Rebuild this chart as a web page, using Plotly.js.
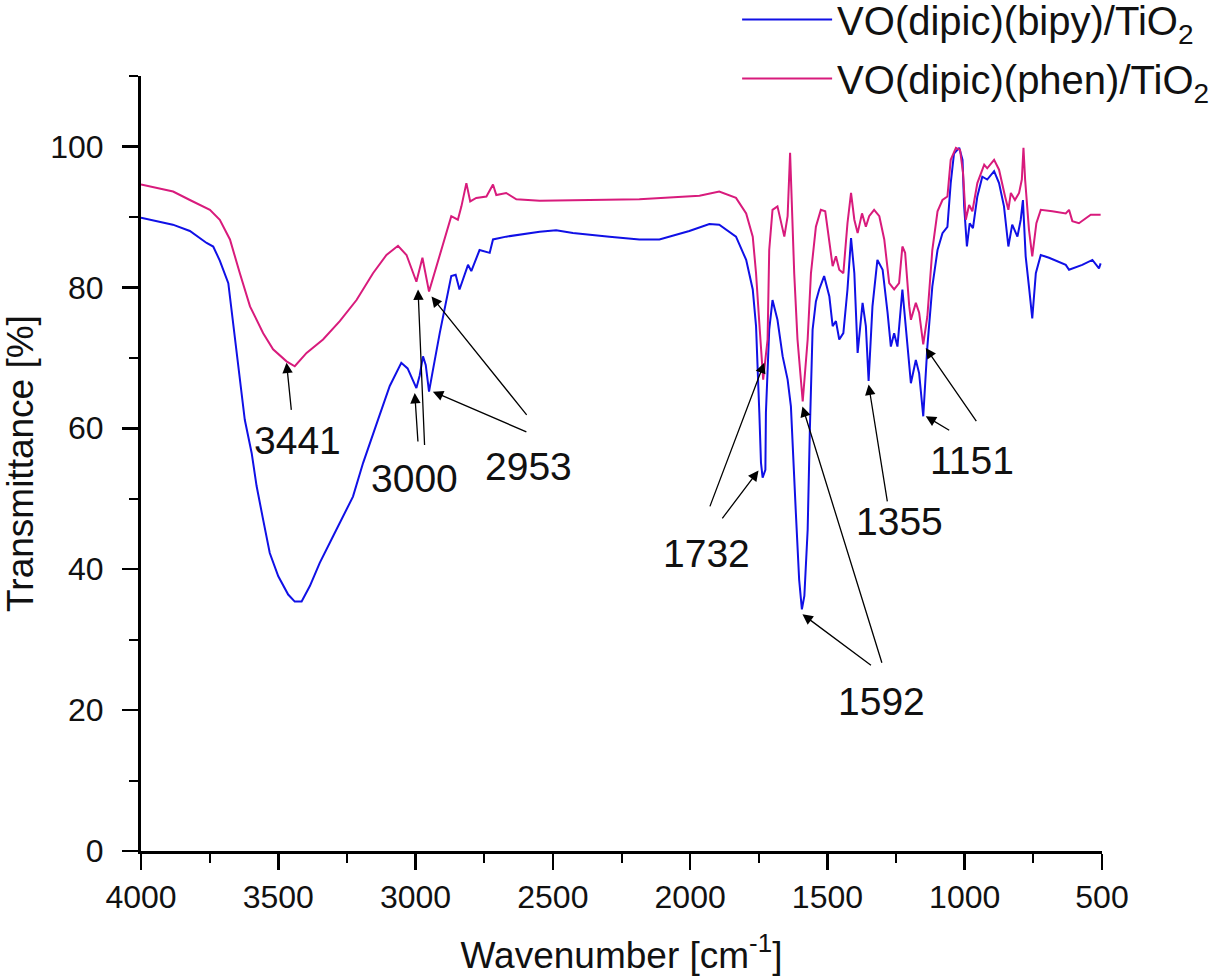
<!DOCTYPE html>
<html>
<head>
<meta charset="utf-8">
<script src="https://cdn.plot.ly/plotly-3.0.1.min.js"></script>
<style>html,body{margin:0;padding:0;background:#fff;}#chart{width:1219px;height:978px;}</style>
</head>
<body>
<div id="chart"></div>
<script>
// ---- Data: VO(dipic)(bipy)/TiO2 (blue) ----
const bipyWn = [4000,3931,3884,3822,3761,3737,3713,3682,3658,3640,3622,3597,3579,3555,3531,3500,3464,3440,3415,3385,3349,3300,3264,3228,3191,3155,3137,3094,3052,3029,2997,2985,2973,2963,2951,2938,2912,2870,2854,2840,2809,2797,2767,2730,2718,2670,2548,2488,2427,2294,2185,2112,2003,1930,1894,1833,1796,1772,1760,1748,1742,1736,1726,1724,1718,1712,1700,1682,1663,1645,1633,1627,1615,1603,1593,1584,1572,1564,1554,1542,1530,1512,1493,1481,1469,1457,1442,1427,1414,1402,1390,1372,1360,1350,1336,1318,1299,1281,1269,1257,1245,1227,1214,1196,1178,1166,1151,1136,1118,1099,1081,1063,1051,1039,1020,1008,1002,992,982,970,954,936,918,893,875,857,841,827,808,796,788,778,766,754,741,723,693,632,620,572,535,511,505];
const bipyT  = [89.9,89.3,88.9,88.0,86.3,85.8,83.8,80.6,72.7,66.9,61.2,56.5,51.8,47.0,42.3,39.0,36.4,35.4,35.4,37.6,40.9,44.7,47.5,50.3,55.1,59.3,61.2,66.0,69.3,68.5,65.7,67.5,70.2,69.0,65.2,68.0,73.5,81.6,81.8,79.7,83.2,82.3,85.3,84.9,86.8,87.2,87.9,88.1,87.7,87.2,86.8,86.8,88.0,89.0,88.9,87.2,83.9,79.7,74.5,62.2,55.1,53.0,54.1,62.2,69.3,74.0,78.2,75.4,70.2,66.9,63.1,57.4,48.0,38.5,34.3,36.2,45.6,59.8,74.0,78.0,79.7,81.6,78.7,74.5,75.2,72.6,73.5,79.7,87.0,82.0,70.7,77.8,74.5,66.7,77.3,83.9,82.5,76.4,71.6,73.5,71.6,79.7,74.5,66.4,69.7,67.8,61.7,71.6,80.1,85.3,87.7,88.6,94.8,99.0,99.8,98.1,91.5,85.8,89.1,88.4,92.9,95.7,95.3,96.5,94.8,91.5,85.8,88.9,87.2,89.6,92.4,84.4,80.1,75.6,82.0,84.6,84.2,83.2,82.5,83.2,83.9,82.7,83.4];

// ---- Data: VO(dipic)(phen)/TiO2 (magenta) ----
const phenWn = [4000,3883,3822,3749,3713,3676,3640,3603,3555,3519,3470,3440,3397,3337,3276,3215,3155,3106,3064,3033,2997,2975,2951,2912,2870,2846,2833,2815,2801,2779,2742,2718,2706,2670,2633,2548,2185,1966,1894,1833,1796,1772,1760,1748,1734,1718,1712,1700,1682,1657,1645,1636,1629,1621,1609,1590,1572,1560,1542,1524,1508,1493,1481,1469,1457,1442,1427,1414,1402,1390,1374,1360,1348,1330,1311,1293,1275,1257,1239,1227,1217,1202,1196,1178,1166,1151,1136,1118,1099,1081,1063,1051,1032,1017,1006,996,984,972,954,929,918,893,875,853,841,832,817,802,792,786,780,766,754,739,723,681,632,620,608,584,541,505];
const phenT  = [94.6,93.6,92.4,91.0,89.6,86.8,82.0,77.3,73.5,71.2,69.5,68.8,70.7,72.6,75.2,78.2,82.0,84.6,85.9,84.6,80.8,84.2,79.4,84.4,90.1,89.6,91.5,94.8,92.2,92.7,92.9,94.6,93.1,93.4,92.5,92.3,92.5,93.0,93.6,92.7,90.5,87.2,82.0,74.9,66.9,72.6,85.3,91.0,91.5,87.2,90.1,99.1,91.5,82.0,72.6,63.8,72.6,82.0,88.6,91.0,90.8,86.8,83.0,84.4,82.5,82.0,89.1,93.4,89.6,87.7,90.5,88.6,90.1,91.0,90.1,86.8,80.6,79.7,80.6,85.8,84.9,77.3,75.4,77.8,76.4,71.9,75.9,85.3,90.8,92.4,92.9,98.1,99.8,99.5,96.2,89.6,91.7,90.8,94.8,97.4,96.9,98.1,96.7,92.9,91.0,93.4,92.4,93.4,95.3,99.8,95.3,88.2,84.4,89.1,91.0,90.8,90.5,91.0,89.4,89.1,90.3,90.3];

// ---- Peak labels (text, wavenumber, transmittance) ----
const peakText = ['3441','3000','2953','1732','1592','1355','1151'];
const peakX    = [3429, 3003, 2588, 1939, 1302, 1237, 973];
const peakY    = [58.2, 52.9, 54.6, 42.2, 21.2, 46.8, 55.4];

// ---- Arrows: tail (x0,y0) -> head (x1,y1) in data units ----
const arrowX0 = [3452, 2991, 2967, 2591, 2591, 1930, 1887, 1336, 1300, 1281, 1051, 954];
const arrowY0 = [62.4, 57.9, 57.4, 61.7, 59.4, 48.7, 47.0, 26.2, 26.5, 49.4, 59.6, 60.8];
const arrowX1 = [3470, 3003, 2991, 2942, 2937, 1730, 1751, 1591, 1591, 1350, 1142, 1142];
const arrowY1 = [69.3, 65.0, 79.7, 78.7, 65.2, 69.3, 54.0, 33.6, 63.1, 66.2, 61.7, 71.4];

const seriesNames = ['VO(dipic)(bipy)/TiO<sub>2</sub>', 'VO(dipic)(phen)/TiO<sub>2</sub>'];

const FONT = 'Liberation Sans, Arial, sans-serif';

const traces = [
  {x: bipyWn, y: bipyT, type: 'scatter', mode: 'lines', name: seriesNames[0],
   legendgroup: 'a', line: {color: '#1010e6', width: 2}},
  {x: phenWn, y: phenT, type: 'scatter', mode: 'lines', name: seriesNames[1],
   legendgroup: 'b', line: {color: '#d81b7c', width: 2}}
];

const annotations = [];
for (let i = 0; i < peakText.length; i++) {
  annotations.push({x: peakX[i], y: peakY[i], xref: 'x', yref: 'y', text: peakText[i],
    showarrow: false, font: {family: FONT, size: 39, color: '#111'}});
}
for (let i = 0; i < arrowX0.length; i++) {
  annotations.push({x: arrowX1[i], y: arrowY1[i], ax: arrowX0[i], ay: arrowY0[i],
    xref: 'x', yref: 'y', axref: 'x', ayref: 'y', text: '', showarrow: true,
    arrowhead: 2, arrowsize: 1.6, arrowwidth: 1.3, arrowcolor: '#000', standoff: 0});
}

const layout = {
  width: 1219, height: 978,
  margin: {l: 141, r: 117, t: 76, b: 126.5, pad: 0, autoexpand: false},
  paper_bgcolor: '#fff', plot_bgcolor: '#fff',
  font: {family: FONT, color: '#111'},
  showlegend: true,
  legend: {x: 0.6203, xanchor: 'left', y: 1.1148, yanchor: 'top',
    font: {family: FONT, size: 40, color: '#111'}, bgcolor: 'rgba(0,0,0,0)',
    itemwidth: 90, tracegroupgap: 4, traceorder: 'grouped'},
  xaxis: {range: [4000, 500], showgrid: false, zeroline: false,
    showline: true, linecolor: '#000', linewidth: 3,
    ticks: 'outside', ticklen: 16, tickwidth: 2.5, tickcolor: '#000',
    tick0: 0, dtick: 500, ticklabelstandoff: 0,
    minor: {dtick: 250, ticklen: 9, tickwidth: 2, tickcolor: '#000', ticks: 'outside'},
    tickfont: {family: FONT, size: 32, color: '#111'},
    title: {text: 'Wavenumber [cm<sup>-1</sup>]', font: {family: FONT, size: 37, color: '#111'}, standoff: 28}},
  yaxis: {range: [0, 110], showgrid: false, zeroline: false,
    showline: true, linecolor: '#000', linewidth: 3,
    ticks: 'outside', ticklen: 16, tickwidth: 2.5, tickcolor: '#000',
    tick0: 0, dtick: 20, ticklabelstandoff: 12,
    minor: {dtick: 10, ticklen: 9, tickwidth: 2, tickcolor: '#000', ticks: 'outside'},
    tickfont: {family: FONT, size: 32, color: '#111'},
    title: {text: 'Transmittance [%]', font: {family: FONT, size: 37, color: '#111'}, standoff: 8}},
  annotations: annotations
};

Plotly.newPlot('chart', traces, layout, {displayModeBar: false, staticPlot: true});
</script>
</body>
</html>
